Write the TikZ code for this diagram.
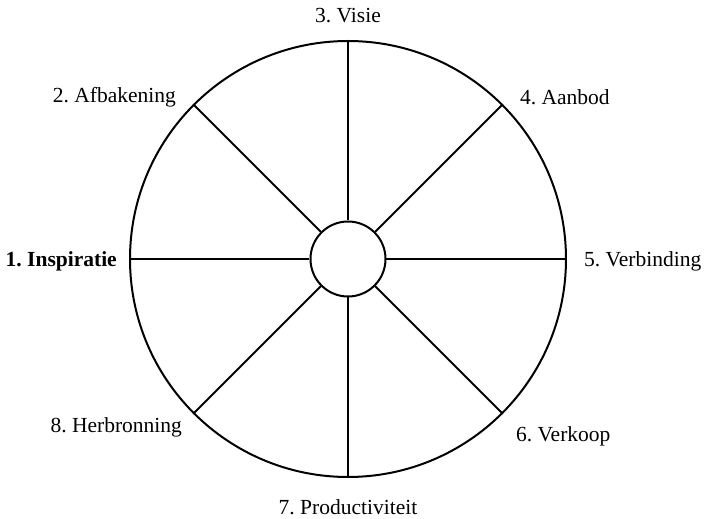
\documentclass[tikz,border=0pt]{standalone}
\usepackage{fontspec}
\setmainfont{Liberation Serif}
\usepackage{tikz}
\usetikzlibrary{positioning, calc}
\frenchspacing
\tikzstyle{wheel} = [draw, circle, line width=2pt, inner sep=0pt]
\tikzstyle{spoke} = [line width=2pt]
\tikzstyle{phase} = [inner sep=0pt, font=\fontsize{21.5}{24}\selectfont]

\begin{document}
\begin{tikzpicture}[x=1pt, y=1pt]
    \useasboundingbox (-348,-260) rectangle (359,259);
    \node (rim) [wheel, minimum size=436pt] at (0,0) {};
    \node (hub) [wheel, minimum size=75pt] at (0,0) {};

    % spokes
    \foreach \a in {0,45,...,315}
        \draw [spoke] (hub.\a) -- (rim.\a);

    % labels
    \node (insp) [phase, anchor=base east, font=\fontsize{21.5}{24}\selectfont\bfseries] at ($(rim.180)+(-12,-8)$) {1. Inspiratie};
    \node (afb) [phase, anchor=base east] at ($(rim.135)+(-17,2)$) {2. Afbakening};
    \node (vis) [phase, anchor=base] at ($(rim.90)+(0,17)$) {3. Visie};
    \node (aanb) [phase, anchor=base west] at ($(rim.45)+(17,0)$) {4. Aanbod};
    \node (verb) [phase, anchor=base west] at ($(rim.0)+(17,-8)$) {5. Verbinding};
    \node (verk) [phase, anchor=base west] at ($(rim.-45)+(13,-28)$) {6. Verkoop};
    \node (prod) [phase, anchor=base] at ($(rim.-90)+(0,-36)$) {7. Productiviteit};
    \node (herb) [phase, anchor=base east] at ($(rim.-135)+(-11,-19)$) {8. Herbronning};
\end{tikzpicture}
\end{document}
